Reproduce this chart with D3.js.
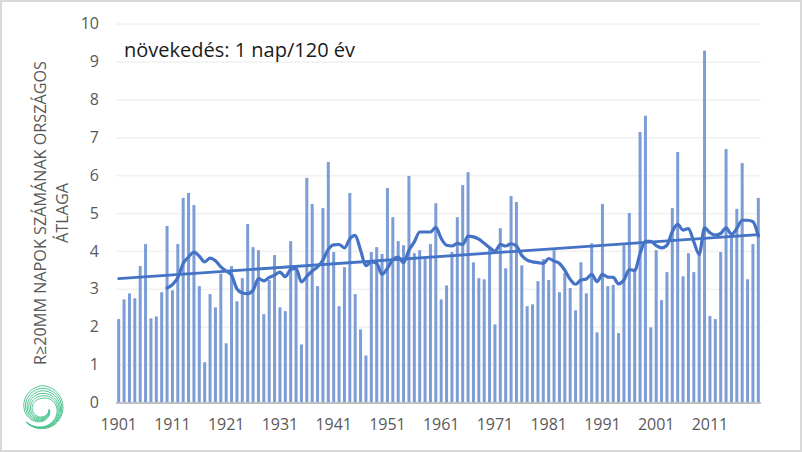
<!doctype html>
<html>
<meta charset="utf-8">
<title>R20mm</title>
<style>
    html, body { margin: 0; padding: 0; background: #fff; }
    svg { display: block; }
    text { font-family: "Open Sans", sans-serif; }
    .tick text { font-size: 16px; fill: #595959; }
    .domain { display: none; }
</style>
<svg id="chart" width="802" height="452"></svg>

<script src="https://d3js.org/d3.v7.min.js"></script>
<script>
    var years = d3.range(1901, 2021);

    var yearTicks = [1901, 1911, 1921, 1931, 1941, 1951, 1961, 1971, 1981, 1991, 2001, 2011];
    var valueTicks = [0, 1, 2, 3, 4, 5, 6, 7, 8, 9, 10];

    var barValues = [
        2.2, 2.72, 2.88, 2.75, 3.6, 4.18, 2.22, 2.27, 2.91, 4.66,
        2.96, 4.18, 5.4, 5.53, 5.21, 3.07, 1.06, 2.86, 2.51, 3.4,
        1.56, 3.6, 2.67, 3.28, 4.71, 4.1, 4.02, 2.33, 3.23, 3.89,
        2.51, 2.41, 4.26, 3.58, 1.53, 5.93, 5.24, 3.07, 5.13, 6.35,
        3.97, 2.54, 3.57, 5.53, 2.86, 1.93, 1.24, 3.97, 4.1, 3.92,
        5.66, 4.89, 4.26, 4.15, 5.98, 3.94, 4.02, 3.85, 4.18, 5.26,
        2.72, 3.09, 3.97, 4.89, 5.74, 6.08, 3.7, 3.28, 3.25, 4.1,
        2.06, 4.6, 3.54, 5.45, 5.29, 3.62, 2.54, 2.59, 3.2, 3.78,
        3.23, 4.02, 2.91, 3.42, 3.02, 2.43, 3.7, 2.88, 4.2, 1.85,
        5.24, 3.07, 3.1, 1.83, 4.15, 5.0, 3.49, 7.14, 7.57, 1.98,
        4.02, 2.7, 3.44, 5.13, 6.61, 3.33, 3.94, 3.44, 3.93, 9.29,
        2.28, 2.2, 3.97, 6.69, 4.37, 5.11, 6.32, 3.25, 4.18, 5.4
    ];

    // moving average starts at 1910
    var avgYears = years.slice(9);
    var avgValues = [
        3.02, 3.11, 3.3, 3.67, 3.84, 3.97, 3.86, 3.71, 3.81, 3.74,
        3.58, 3.47, 3.36, 3.0, 2.89, 2.87, 2.96, 3.27, 3.21, 3.3,
        3.36, 3.44, 3.32, 3.51, 3.54, 3.18, 3.33, 3.47, 3.58, 3.76,
        4.04, 4.16, 4.17, 4.08, 4.32, 4.41, 4.02, 3.61, 3.71, 3.67,
        3.38, 3.54, 3.77, 3.84, 3.69, 4.02, 4.24, 4.5, 4.5, 4.5,
        4.62, 4.33, 4.15, 4.13, 4.2, 4.17, 4.39, 4.37, 4.31, 4.2,
        4.09, 3.99, 4.17, 4.13, 4.19, 4.13, 3.88, 3.76, 3.71, 3.69,
        3.67, 3.8, 3.73, 3.67, 3.49, 3.25, 3.12, 3.23, 3.26, 3.38,
        3.19, 3.38, 3.31, 3.3, 3.13, 3.23, 3.51, 3.48, 3.93, 4.25,
        4.25, 4.14, 4.08, 4.15, 4.51, 4.7, 4.55, 4.59, 4.24, 3.91,
        4.61, 4.48, 4.42, 4.46, 4.61, 4.44, 4.59, 4.81, 4.81, 4.77,
        4.39
    ];

    var trendYears = [1901, 2020];
    var trendValues = [3.27, 4.43];

    var svg = d3.select("#chart");

    // frame of the picture
    svg.append("rect")
        .attr("x", 1).attr("y", 1)
        .attr("width", 800).attr("height", 450)
        .attr("fill", "#fff")
        .attr("stroke", "#d9d9d9")
        .attr("stroke-width", 2);

    var x = d3.scaleBand().domain(years).range([116, 761]).paddingInner(0.44).paddingOuter(0.22);
    var y = d3.scaleLinear().domain([0, 10]).range([402.4, 23.7]);
    var xMid = function (yr) { return x(yr) + x.bandwidth() / 2; };

    // gridlines + y labels
    var yAxis = svg.append("g")
        .attr("transform", "translate(116,0)")
        .call(d3.axisLeft(y).tickValues(valueTicks).tickSize(-645).tickPadding(17));
    yAxis.selectAll(".tick line")
        .attr("stroke", "#f2f2f2")
        .attr("stroke-width", 1.8);

    // bars
    svg.append("g").selectAll("rect")
        .data(years)
        .join("rect")
        .attr("x", function (d) { return x(d); })
        .attr("width", x.bandwidth())
        .attr("y", function (d, i) { return y(barValues[i]); })
        .attr("height", function (d, i) { return y(0) - y(barValues[i]); })
        .attr("fill", "#7c9dd6");

    // baseline + x labels
    var xAxis = svg.append("g")
        .attr("transform", "translate(0," + y(0) + ")")
        .call(d3.axisBottom(x).tickValues(yearTicks).tickSize(0).tickPadding(16.5));
    svg.append("line")
        .attr("x1", 116).attr("x2", 761)
        .attr("y1", y(0) + 0.6).attr("y2", y(0) + 0.6)
        .attr("stroke", "#bfbfbf")
        .attr("stroke-width", 2.2);

    // trend
    var trendLine = d3.line()
        .x(function (d, i) { return xMid(trendYears[i]); })
        .y(function (d) { return y(d); });
    svg.append("path")
        .attr("d", trendLine(trendValues))
        .attr("fill", "none")
        .attr("stroke", "#4472c4")
        .attr("stroke-width", 2.8)
        .attr("stroke-linecap", "round");

    // moving average
    var avgLine = d3.line()
        .x(function (d, i) { return xMid(avgYears[i]); })
        .y(function (d) { return y(d); })
        .curve(d3.curveMonotoneX);
    svg.append("path")
        .attr("d", avgLine(avgValues))
        .attr("fill", "none")
        .attr("stroke", "#4472c4")
        .attr("stroke-width", 3.2)
        .attr("stroke-linecap", "round")
        .attr("stroke-linejoin", "round");

    // y title, two lines
    svg.append("text")
        .attr("transform", "translate(45.5,213) rotate(-90)")
        .attr("text-anchor", "middle")
        .attr("font-size", 16.2)
        .attr("fill", "#595959")
        .text("R≥20MM NAPOK SZÁMÁNAK ORSZÁGOS");
    svg.append("text")
        .attr("transform", "translate(68,213) rotate(-90)")
        .attr("text-anchor", "middle")
        .attr("font-size", 16.2)
        .attr("fill", "#595959")
        .text("ÁTLAGA");

    svg.append("text")
        .attr("x", 124).attr("y", 57)
        .attr("font-size", 20)
        .attr("fill", "#1a1a1a")
        .text("növekedés: 1 nap/120 év");

    // logo, spiral strands between an inner and an outer edge
    var defs = svg.append("defs");
    var grad = defs.append("linearGradient")
        .attr("id", "logoGrad")
        .attr("gradientUnits", "userSpaceOnUse")
        .attr("x1", 55).attr("y1", 388).attr("x2", 26).attr("y2", 428);
    grad.append("stop").attr("offset", "0%").attr("stop-color", "#4cc48f");
    grad.append("stop").attr("offset", "55%").attr("stop-color", "#47b0b0");
    grad.append("stop").attr("offset", "100%").attr("stop-color", "#3288d4");

    var spiralAngles = [100, 180, 270, 360, 450, 540, 595];
    var innerEdge = d3.scaleLinear().domain(spiralAngles).range([7, 8.5, 10, 10, 15, 18.5, 21]);
    var outerEdge = d3.scaleLinear().domain(spiralAngles).range([7.5, 13, 18, 23, 21, 20, 21]);

    var logo = svg.append("g").attr("transform", "translate(42,408.5)");
    var spiral = d3.lineRadial().curve(d3.curveBasis);
    d3.range(6).forEach(function (k) {
        var pts = d3.range(100, 596, 8).map(function (a) {
            var r = innerEdge(a) + (outerEdge(a) - innerEdge(a)) * k / 5;
            return [a * Math.PI / 180, r];
        });
        logo.append("path")
            .attr("d", spiral(pts))
            .attr("fill", "none")
            .attr("stroke", "url(#logoGrad)")
            .attr("stroke-width", 1);
    });
</script>
</html>
